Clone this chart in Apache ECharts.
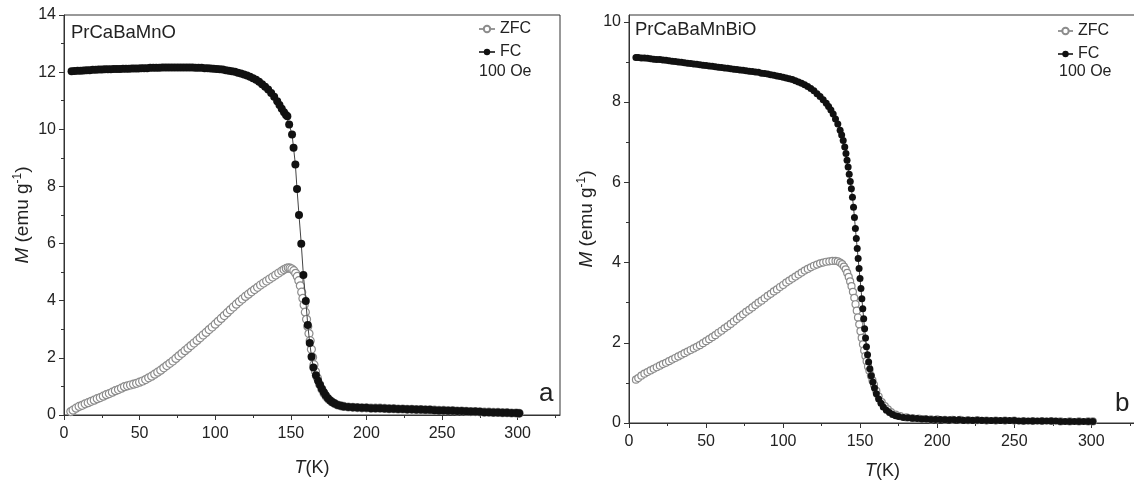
<!DOCTYPE html>
<html>
<head>
<meta charset="utf-8">
<script src="https://cdn.jsdelivr.net/npm/echarts@6/dist/echarts.min.js"></script>
<style>
html,body{margin:0;padding:0;background:#fff;}
#chart{width:1134px;height:482px;}
</style>
</head>
<body>
<div id="chart"></div>
<script>
// ---------- DATA (T in K, M in emu/g) ----------
const fcA = [
[5,12.03],[7,12.04],[9,12.05],[11,12.05],[13,12.06],[15,12.07],[17,12.07],[19,12.08],[21,12.08],[23,12.09],
[25,12.09],[27,12.10],[29,12.10],[31,12.10],[33,12.11],[35,12.11],[37,12.11],[39,12.12],[41,12.12],[43,12.12],
[45,12.13],[47,12.13],[49,12.13],[51,12.14],[53,12.14],[55,12.14],[57,12.15],[59,12.15],[61,12.15],[63,12.15],
[65,12.16],[67,12.16],[69,12.16],[71,12.16],[73,12.16],[75,12.16],[77,12.16],[79,12.16],[81,12.16],[83,12.16],
[85,12.16],[87,12.15],[89,12.15],[91,12.15],[93,12.14],[95,12.14],[97,12.13],[99,12.12],[101,12.11],[103,12.10],
[105,12.09],[107,12.07],[109,12.05],[111,12.03],[113,12.01],[115,11.98],[117,11.95],[119,11.92],[121,11.88],[123,11.84],
[125,11.79],[127,11.73],[129,11.66],[131,11.58],[133,11.49],[135,11.39],[137,11.27],[139,11.14],[141,10.98],[142.5,10.85],
[144,10.72],[145.5,10.6],[146.8,10.5],[147.7,10.46],[148.9,10.17],[150.8,9.82],[151.8,9.35],[153,8.77],[154.1,7.91],[155.4,7.0],
[156.9,5.99],[158.3,4.9],[159.9,3.99],[161.2,3.15],[162.5,2.52],[163.7,2.04],[164.9,1.66],[166.6,1.39],[168,1.2],[169.3,1.05],
[170.5,0.92],[171.8,0.8],[173,0.69],[174.5,0.59],[176,0.51],[177.5,0.45],[179,0.4],[181,0.35],[183,0.32],[185,0.3],
[188,0.28],[191,0.27],[194,0.26],[197,0.25],[200,0.25],[203,0.24],[206,0.24],[209,0.24],[212,0.23],[215,0.22],
[218,0.22],[221,0.21],[224,0.21],[227,0.2],[230,0.2],[233,0.19],[236,0.19],[239,0.18],[242,0.18],[245,0.17],
[248,0.16],[251,0.16],[254,0.15],[257,0.15],[260,0.14],[263,0.14],[266,0.13],[269,0.12],[272,0.12],[275,0.11],
[278,0.1],[281,0.1],[284,0.09],[287,0.09],[290,0.08],[293,0.08],[296,0.07],[299,0.07],[301,0.06]
];
const zfcA = [
[4.5,0.12],[6,0.17],[8,0.24],[10,0.3],[12,0.34],[14,0.39],[16,0.43],[18,0.48],[20,0.52],[22,0.57],
[24,0.61],[26,0.66],[28,0.71],[30,0.75],[32,0.8],[34,0.85],[36,0.89],[38,0.94],[40,0.99],[42,1.02],
[44,1.05],[46,1.08],[48,1.11],[50,1.15],[52,1.19],[54,1.24],[56,1.3],[58,1.36],[60,1.43],[62,1.5],
[64,1.57],[66,1.65],[68,1.73],[70,1.81],[72,1.89],[74,1.98],[76,2.07],[78,2.16],[80,2.25],[82,2.34],
[84,2.43],[86,2.52],[88,2.61],[90,2.7],[92,2.8],[94,2.89],[96,2.99],[98,3.08],[100,3.18],[102,3.28],
[104,3.38],[106,3.48],[108,3.58],[110,3.68],[112,3.78],[114,3.88],[116,3.97],[118,4.06],[120,4.15],[122,4.23],
[124,4.31],[126,4.39],[128,4.47],[130,4.55],[132,4.62],[134,4.69],[136,4.76],[138,4.83],[140,4.9],[142,4.97],
[144,5.04],[145.5,5.09],[147,5.13],[148.3,5.15],[149.5,5.14],[150.7,5.11],[152,5.05],[153.2,4.96],[154.3,4.85],[155.3,4.7],
[156.3,4.52],[157.2,4.3],[158,4.08],[158.8,3.85],[159.6,3.6],[160.4,3.35],[161.2,3.1],[162,2.85],[162.8,2.6],[163.6,2.3],
[164.4,2.02],[165.3,1.76],[166.3,1.52],[167.5,1.3],[169,1.08],[170.5,0.9],[172,0.75],[173.5,0.64],[175,0.55],[177,0.46],
[179,0.4],[181,0.35],[183,0.32],[185,0.3],[188,0.28],[191,0.27],[194,0.26],[197,0.25],[200,0.25],[203,0.24],
[206,0.24],[209,0.24],[212,0.23],[215,0.22],[218,0.22],[221,0.21],[224,0.21],[227,0.2],[230,0.2],[233,0.19],
[236,0.19],[239,0.18],[242,0.18],[245,0.17],[248,0.16],[251,0.16],[254,0.15],[257,0.15],[260,0.14],[263,0.14],
[266,0.13],[269,0.12],[272,0.12],[275,0.11],[278,0.1],[281,0.1],[284,0.09],[287,0.09],[290,0.08],[293,0.08],
[296,0.07],[299,0.07],[301,0.06]
];
const fcB = [
[4.5,9.11],[6,9.11],[8,9.1],[10,9.1],[12,9.09],[14,9.08],[16,9.07],[18,9.06],[20,9.06],[22,9.05],
[24,9.04],[26,9.03],[28,9.02],[30,9.01],[32,9.0],[34,8.99],[36,8.98],[38,8.97],[40,8.96],[42,8.95],
[44,8.94],[46,8.93],[48,8.92],[50,8.91],[52,8.9],[54,8.89],[56,8.88],[58,8.87],[60,8.86],[62,8.85],
[64,8.84],[66,8.83],[68,8.82],[70,8.81],[72,8.8],[74,8.79],[76,8.78],[78,8.77],[80,8.76],[82,8.75],
[84,8.74],[86,8.72],[88,8.71],[90,8.7],[92,8.68],[94,8.67],[96,8.65],[98,8.64],[100,8.62],[102,8.6],
[104,8.58],[106,8.56],[108,8.53],[110,8.5],[112,8.47],[114,8.43],[116,8.39],[118,8.34],[120,8.28],[122,8.21],
[124,8.14],[126,8.06],[128,7.97],[129.5,7.89],[131,7.8],[132.5,7.7],[134,7.58],[135.5,7.45],[137,7.3],[138,7.18],
[139,7.04],[140,6.88],[140.8,6.72],[141.5,6.55],[142.2,6.38],[142.9,6.2],[143.6,6.02],[144.3,5.84],[145,5.63],[145.7,5.38],
[146.3,5.12],[146.9,4.85],[147.5,4.6],[148.1,4.35],[148.7,4.1],[149.3,3.85],[149.9,3.6],[150.5,3.35],[151.1,3.1],[151.7,2.85],
[152.3,2.6],[152.9,2.35],[153.5,2.12],[154.1,1.9],[154.8,1.7],[155.5,1.52],[156.3,1.35],[157.2,1.18],[158.2,1.02],[159.3,0.87],
[160.5,0.73],[162,0.6],[163.5,0.49],[165,0.4],[167,0.32],[169,0.26],[171,0.21],[173,0.18],[175,0.16],[178,0.14],
[181,0.13],[184,0.12],[187,0.11],[190,0.1],[193,0.1],[196,0.09],[199,0.09],[202,0.09],[205,0.08],[208,0.08],
[211,0.08],[214,0.08],[217,0.07],[220,0.07],[223,0.07],[226,0.07],[229,0.07],[232,0.06],[235,0.06],[238,0.06],
[241,0.06],[244,0.06],[247,0.06],[250,0.06],[253,0.05],[256,0.05],[259,0.05],[262,0.05],[265,0.05],[268,0.05],
[271,0.05],[274,0.05],[277,0.05],[280,0.04],[283,0.04],[286,0.04],[289,0.04],[292,0.04],[295,0.04],[298,0.04],[301,0.04]
];
const zfcB = [
[4.5,1.08],[6,1.12],[8,1.18],[10,1.23],[12,1.27],[14,1.31],[16,1.35],[18,1.39],[20,1.43],[22,1.47],
[24,1.5],[26,1.54],[28,1.58],[30,1.62],[32,1.66],[34,1.7],[36,1.74],[38,1.78],[40,1.82],[42,1.86],
[44,1.9],[46,1.94],[48,1.99],[50,2.04],[52,2.09],[54,2.14],[56,2.19],[58,2.25],[60,2.3],[62,2.36],
[64,2.41],[66,2.47],[68,2.53],[70,2.59],[72,2.65],[74,2.71],[76,2.77],[78,2.82],[80,2.88],[82,2.94],
[84,3.0],[86,3.05],[88,3.11],[90,3.17],[92,3.22],[94,3.28],[96,3.33],[98,3.39],[100,3.44],[102,3.5],
[104,3.55],[106,3.6],[108,3.65],[110,3.7],[112,3.75],[114,3.8],[116,3.84],[118,3.88],[120,3.92],[122,3.95],
[124,3.98],[126,4.0],[128,4.02],[130,4.03],[132,4.04],[134,4.04],[135.5,4.03],[137,4.0],[138.3,3.96],[139.5,3.9],
[140.6,3.83],[141.6,3.74],[142.6,3.64],[143.5,3.53],[144.4,3.41],[145.3,3.27],[146.2,3.12],[147,2.96],[147.8,2.8],[148.6,2.63],
[149.4,2.46],[150.2,2.29],[151,2.12],[151.8,1.96],[152.6,1.81],[153.4,1.67],[154.2,1.54],[155.1,1.41],[156,1.3],[157,1.18],
[158,1.06],[159,0.95],[160.5,0.8],[162,0.66],[164,0.52],[166,0.42],[168,0.34],[170,0.27],[173,0.21],[176,0.17],
[180,0.14],[184,0.12],[188,0.11],[192,0.1],[196,0.09],[200,0.09],[205,0.08],[210,0.08],[215,0.08],[220,0.07],
[226,0.07],[232,0.06],[238,0.06],[244,0.06],[250,0.06],[256,0.05],[262,0.05],[268,0.05],[274,0.05],[280,0.04],
[286,0.04],[292,0.04],[298,0.04],[301,0.04]
];
// tick labels
const xTicks = [0,50,100,150,200,250,300];
const xMinorTicks = [25,75,125,175,225,275,325];
const yTicksA = [0,2,4,6,8,10,12,14];
const yMinorA = [1,3,5,7,9,11,13];
const yTicksB = [0,2,4,6,8,10];
const yMinorB = [1,3,5,7,9];
const seriesNames = ['ZFC','FC'];
const titles = ['PrCaBaMnO','PrCaBaMnBiO'];
const panelLetters = ['a','b'];
const fieldText = '100 Oe';

// ---------- STYLE ----------
const FONT = 'Liberation Sans, Arial, sans-serif';
const TXT = '#222';
const AX = '#333';

const chart = echarts.init(document.getElementById('chart'), null, {renderer:'canvas'});

const grids = [
  {left:64, top:15, width:496, height:400, show:true, borderColor:AX, borderWidth:1, backgroundColor:'transparent', outerBoundsMode:'none', containLabel:false},
  {left:629, top:15, width:507, height:408, show:true, borderColor:AX, borderWidth:1, backgroundColor:'transparent', outerBoundsMode:'none', containLabel:false}
];
const xMax = [328, 329];
const yMax = [14, 10.17];
const yTicks = [yTicksA, yTicksB];
const yMinor = [yMinorA, yMinorB];
const yNameGap = [30, 31];
const xNameGap = [44, 39];

const xAxes = [], yAxes = [];
for (let g = 0; g < 2; g++) {
  xAxes.push({
    type:'value', gridIndex:g, min:0, max:xMax[g], position:'bottom',
    splitLine:{show:false},
    axisLine:{show:true, onZero:false, lineStyle:{color:AX, width:1}},
    axisTick:{show:true, inside:false, length:5, customValues:xTicks, lineStyle:{color:AX}},
    axisLabel:{show:true, customValues:xTicks, margin:11, color:TXT, fontSize:16, fontFamily:FONT},
    name:'{i|T}(K)', nameLocation:'middle', nameGap:xNameGap[g],
    nameTextStyle:{color:TXT, fontSize:18, fontFamily:FONT, rich:{i:{fontStyle:'italic', fontSize:18, fontFamily:FONT, color:TXT}}}
  });
  xAxes.push({
    type:'value', gridIndex:g, min:0, max:xMax[g], position:'bottom',
    splitLine:{show:false}, axisLine:{show:false},
    axisTick:{show:true, inside:false, length:3, customValues:xMinorTicks, lineStyle:{color:AX}},
    axisLabel:{show:false}
  });
  yAxes.push({
    type:'value', gridIndex:g, min:0, max:yMax[g], position:'left',
    splitLine:{show:false},
    axisLine:{show:true, onZero:false, lineStyle:{color:AX, width:1}},
    axisTick:{show:true, inside:false, length:5, customValues:yTicks[g], lineStyle:{color:AX}},
    axisLabel:{show:true, customValues:yTicks[g], margin:8, color:TXT, fontSize:16, fontFamily:FONT},
    name:'{i|M} (emu g{s|-1})', nameLocation:'middle', nameGap:yNameGap[g], nameRotate:90,
    nameTextStyle:{color:TXT, fontSize:19, fontFamily:FONT, lineHeight:22,
      rich:{i:{fontStyle:'italic', fontSize:19, fontFamily:FONT, color:TXT, lineHeight:22},
            s:{fontSize:12, fontFamily:FONT, color:TXT, verticalAlign:'top', lineHeight:13}}}
  });
  yAxes.push({
    type:'value', gridIndex:g, min:0, max:yMax[g], position:'left',
    splitLine:{show:false}, axisLine:{show:false},
    axisTick:{show:true, inside:false, length:3, customValues:yMinor[g], lineStyle:{color:AX}},
    axisLabel:{show:false}
  });
}

function zfcSeries(data, xi, yi, size) {
  return {
    name:seriesNames[0], type:'line', data:data, xAxisIndex:xi, yAxisIndex:yi,
    symbol:'circle', symbolSize:size, showSymbol:true, smooth:false, z:2,
    lineStyle:{color:'#999', width:1},
    itemStyle:{color:'#fff', borderColor:'#8c8c8c', borderWidth:1.2},
    emphasis:{disabled:true}
  };
}
function fcSeries(data, xi, yi, size) {
  return {
    name:seriesNames[1], type:'line', data:data, xAxisIndex:xi, yAxisIndex:yi,
    symbol:'circle', symbolSize:size, showSymbol:true, smooth:false, z:3,
    lineStyle:{color:'#444', width:1},
    itemStyle:{color:'#111', borderColor:'#111', borderWidth:0},
    emphasis:{disabled:true}
  };
}

const legendCommon = {
  orient:'vertical', itemHeight:8, itemGap:5,
  textStyle:{color:TXT, fontSize:16, fontFamily:FONT, lineHeight:18},
  data:seriesNames, selectedMode:false
};

const option = {
  animation:false,
  backgroundColor:'#fff',
  grid:grids,
  xAxis:xAxes,
  yAxis:yAxes,
  legend:[
    Object.assign({left:473, top:15, itemWidth:16}, legendCommon),
    Object.assign({left:1052, top:17, itemWidth:15}, legendCommon)
  ],
  series:[
    zfcSeries(zfcA, 0, 0, 8),
    fcSeries(fcA, 0, 0, 8),
    zfcSeries(zfcB, 2, 2, 7),
    fcSeries(fcB, 2, 2, 7)
  ],
  graphic:[
    {type:'text', left:71, top:23, style:{text:titles[0], fill:TXT, font:'18.5px '+FONT}},
    {type:'text', left:635, top:20, style:{text:titles[1], fill:TXT, font:'18.5px '+FONT}},
    {type:'text', left:479, top:64, style:{text:fieldText, fill:TXT, font:'16px '+FONT}},
    {type:'text', left:1059, top:64, style:{text:fieldText, fill:TXT, font:'16px '+FONT}},
    {type:'text', left:539, top:381, style:{text:panelLetters[0], fill:TXT, font:'26px '+FONT}},
    {type:'text', left:1115, top:391, style:{text:panelLetters[1], fill:TXT, font:'26px '+FONT}}
  ]
};
chart.setOption(option);
</script>
</body>
</html>
